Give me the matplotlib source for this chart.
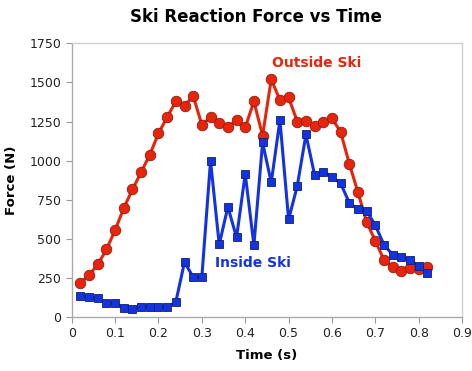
import matplotlib
matplotlib.use("Agg")
import matplotlib.pyplot as plt

# Time samples (s)
time_s = [0.02, 0.04, 0.06, 0.08, 0.10, 0.12, 0.14, 0.16, 0.18, 0.20,
          0.22, 0.24, 0.26, 0.28, 0.30, 0.32, 0.34, 0.36, 0.38, 0.40,
          0.42, 0.44, 0.46, 0.48, 0.50, 0.52, 0.54, 0.56, 0.58, 0.60,
          0.62, 0.64, 0.66, 0.68, 0.70, 0.72, 0.74, 0.76, 0.78, 0.80, 0.82]

# Reaction force on the outside ski (N)
outside_ski = [217, 267, 335, 431, 555, 696, 815, 926, 1038, 1174,
               1278, 1379, 1349, 1414, 1229, 1276, 1238, 1214, 1259, 1212,
               1379, 1160, 1521, 1387, 1404, 1250, 1252, 1220, 1248, 1272,
               1182, 980, 796, 606, 486, 363, 318, 295, 312, 305, 316]

# Reaction force on the inside ski (N)
inside_ski = [134, 128, 118, 90, 86, 58, 51, 64, 66, 66,
              60, 96, 350, 254, 256, 998, 463, 704, 508, 915,
              459, 1116, 860, 1259, 623, 838, 1167, 907, 928, 896,
              854, 730, 687, 678, 585, 461, 397, 386, 363, 326, 278]

x_ticks = [0, 0.1, 0.2, 0.3, 0.4, 0.5, 0.6, 0.7, 0.8, 0.9]
x_tick_labels = ["0", "0.1", "0.2", "0.3", "0.4", "0.5", "0.6", "0.7", "0.8", "0.9"]
y_ticks = [0, 250, 500, 750, 1000, 1250, 1500, 1750]

RED = "#e8250c"
BLUE = "#1433e0"

fig = plt.figure(figsize=(4.72, 3.71), dpi=100)
ax = fig.add_axes([0.152, 0.146, 0.827, 0.737])

ax.plot(time_s, outside_ski, color=RED, lw=2.2, marker="o", ms=7.6,
        markerfacecolor=RED, markeredgecolor="#8a2010", markeredgewidth=0.6,
        zorder=3)
ax.plot(time_s, inside_ski, color=BLUE, lw=2.2, marker="s", ms=6.4,
        markerfacecolor=BLUE, markeredgecolor="#102070", markeredgewidth=0.6,
        zorder=4)

ax.set_xlim(0, 0.9)
ax.set_ylim(0, 1750)
ax.set_xticks(x_ticks)
ax.set_xticklabels(x_tick_labels)
ax.set_yticks(y_ticks)
ax.tick_params(labelsize=9, labelcolor="#222222", length=4, width=0.8,
               color="#999999")

for side in ["left", "bottom"]:
    ax.spines[side].set_color("#aaaaaa")
    ax.spines[side].set_linewidth(1.0)
for side in ["top", "right"]:
    ax.spines[side].set_color("#d0d0d0")
    ax.spines[side].set_linewidth(1.0)

ax.set_xlabel("Time (s)", fontsize=9.5, fontweight="bold", labelpad=6)
ax.set_ylabel("Force (N)", fontsize=9.5, fontweight="bold", labelpad=8)

ax.text(0.565, 1625, "Outside Ski", color=RED, fontsize=10, fontweight="bold",
        ha="center", va="center")
ax.text(0.418, 345, "Inside Ski", color=BLUE, fontsize=10, fontweight="bold",
        ha="center", va="center")

fig.text(256 / 472, 1 - 17 / 371, "Ski Reaction Force vs Time", fontsize=12,
         fontweight="bold", ha="center", va="center")

fig.savefig("out.png", dpi=100, facecolor="white")
